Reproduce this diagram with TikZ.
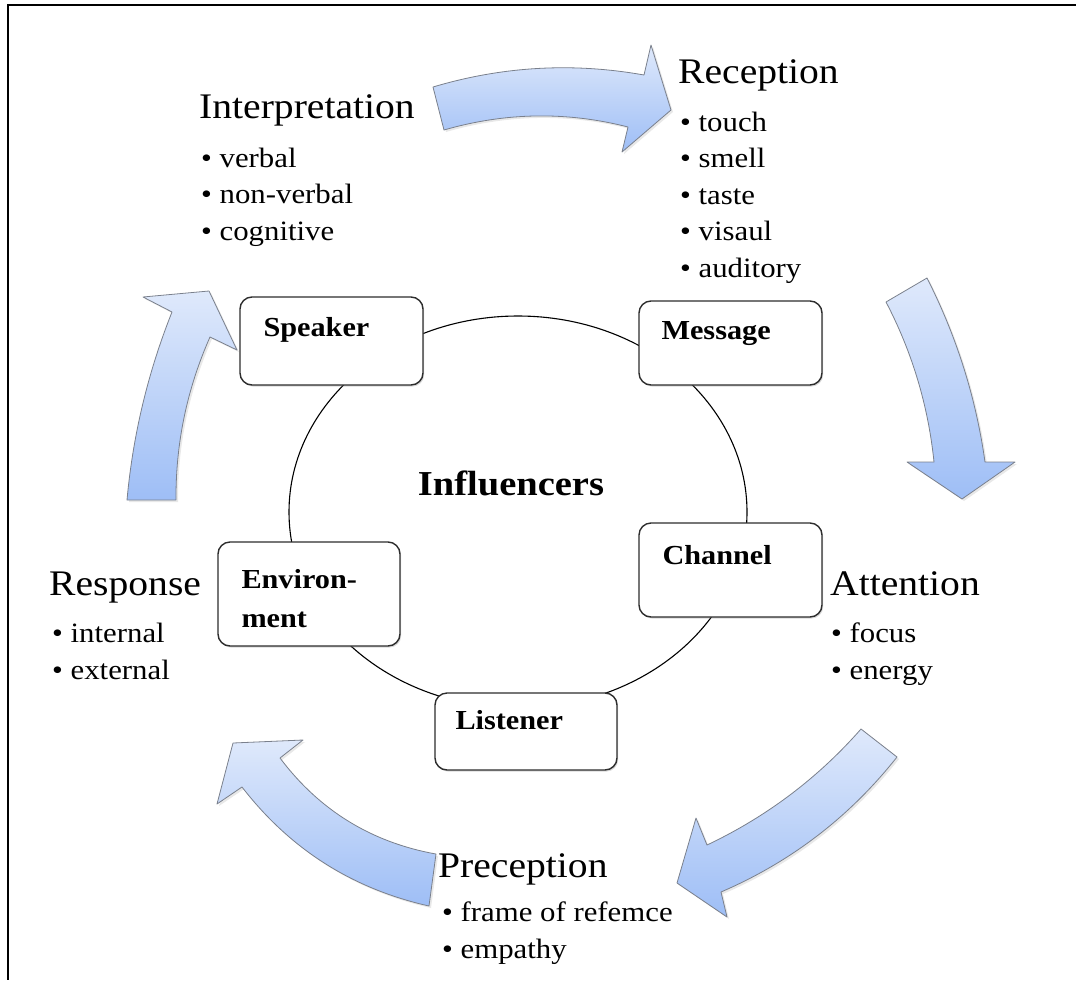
\documentclass[tikz,border=0pt]{standalone}
\usepackage{fontspec}
\setmainfont{Liberation Serif}[FakeStretch=1.1]
\usetikzlibrary{positioning,shapes.geometric,shadows}
\definecolor{arrowlight}{RGB}{223,233,251}
\definecolor{arrowdark}{RGB}{158,190,246}
\definecolor{arrowedge}{RGB}{122,128,140}
\definecolor{boxedge}{RGB}{45,45,45}
\tikzset{
  stagebox/.style={draw=boxedge,line width=1.4pt,rounded corners=12pt,fill=white,minimum width=183pt,inner sep=0pt,
    drop shadow={opacity=0.3,shadow xshift=1.2pt,shadow yshift=-1.6pt}},
  boxtext/.style={font=\fontsize{27.5}{39}\selectfont\bfseries,anchor=base west,inner sep=0pt,align=left},
  stagehead/.style={font=\fontsize{36}{40}\selectfont,anchor=base west,inner sep=0pt},
  stagelist/.style={font=\fontsize{28}{36.5}\selectfont,anchor=base west,inner sep=0pt,align=left},
  cyclearrow/.style={draw=arrowedge,line width=0.8pt,line join=round,top color=arrowlight,bottom color=arrowdark,
    drop shadow={opacity=0.18,shadow xshift=2pt,shadow yshift=-2pt}}
}
\newcommand{\bul}{\textbullet\ }

\begin{document}
\begin{tikzpicture}[x=1pt,y=-1pt]
\useasboundingbox (0,0) rectangle (1076,980);
\draw[line width=2.4pt] (1076,5) -- (8,5) -- (8,980);

\node[draw,ellipse,line width=1.1pt,minimum width=458pt,minimum height=392pt,inner sep=0pt] (ring) at (518,512) {};
\node[font=\fontsize{35}{40}\selectfont\bfseries,inner sep=0pt] (influencers) at (511,483) {Influencers};

\node[stagebox,minimum height=88pt] (speaker) at (331.5,341) {};
\node[stagebox,minimum height=84pt] (message) at (730.5,343) {};
\node[stagebox,minimum height=94pt] (channel) at (730.5,570) {};
\node[stagebox,minimum height=104pt,minimum width=182pt] (environment) at (309,594) {};
\node[stagebox,minimum height=77pt,minimum width=182pt] (listener) at (526,731.5) {};
\node[boxtext] (speakertext) at ([shift={(24,40)}]speaker.north west) {Speaker};
\node[boxtext] (messagetext) at ([shift={(23,39)}]message.north west) {Message};
\node[boxtext] (channeltext) at ([shift={(24,42)}]channel.north west) {Channel};
% two-line label: base sits on the last line
\node[boxtext] (environmenttext) at ([shift={(24,86)}]environment.north west) {Environ-\\ment};
\node[boxtext] (listenertext) at ([shift={(21,37)}]listener.north west) {Listener};

% curved block arrows round the ring
\draw[cyclearrow] (433,87) .. controls (502.4,66.3) and (572.7,62.3) .. (644,75) -- (651,45) -- (671,110) -- (622,152)
  -- (628,127) .. controls (566.7,111.3) and (505.3,112.3) .. (444,130) -- cycle;
\draw[cyclearrow] (927,278) .. controls (956.5,336.1) and (975.9,397.5) .. (985,462) -- (1015,462) -- (962,499)
  -- (907,462) -- (934,462) .. controls (928.2,405.6) and (912.2,352.2) .. (886,302) -- cycle;
\draw[cyclearrow] (861,729) .. controls (817.7,778.3) and (766.3,816.9) .. (707,845) -- (696,818) -- (677,883)
  -- (727,917) -- (721,892) .. controls (791.1,861.8) and (849.7,816.8) .. (897,757) -- cycle;
\draw[cyclearrow] (436,854) .. controls (371.4,842.4) and (319.4,810.4) .. (280,758) -- (303,740) -- (233,743)
  -- (217,804) -- (242,787) .. controls (290,849.2) and (352.4,888.8) .. (429,906) -- cycle;
\draw[cyclearrow] (176,500) .. controls (175.6,443.3) and (187,388.9) .. (210,337) -- (237,350) -- (209,291)
  -- (143,297) -- (172,312) .. controls (147.9,372.5) and (132.9,435.1) .. (127,500) -- cycle;

\node[stagehead] (interpretation) at (199,118) {Interpretation};
\node[stagelist] (interpretationlist) at (201,240) {\bul verbal\\\bul non-verbal\\\bul cognitive};
\node[stagehead] (reception) at (678,83) {Reception};
\node[stagelist] (receptionlist) at (680,277) {\bul touch\\\bul smell\\\bul taste\\\bul visaul\\\bul auditory};
\node[stagehead] (attention) at (830,595) {Attention};
\node[stagelist] (attentionlist) at (831,679) {\bul focus\\\bul energy};
\node[stagehead] (preception) at (438,877) {Preception};
\node[stagelist] (preceptionlist) at (442,958) {\bul frame of refemce\\\bul empathy};
\node[stagehead] (response) at (49,595) {Response};
\node[stagelist] (responselist) at (52,679) {\bul internal\\\bul external};
\end{tikzpicture}
\end{document}
